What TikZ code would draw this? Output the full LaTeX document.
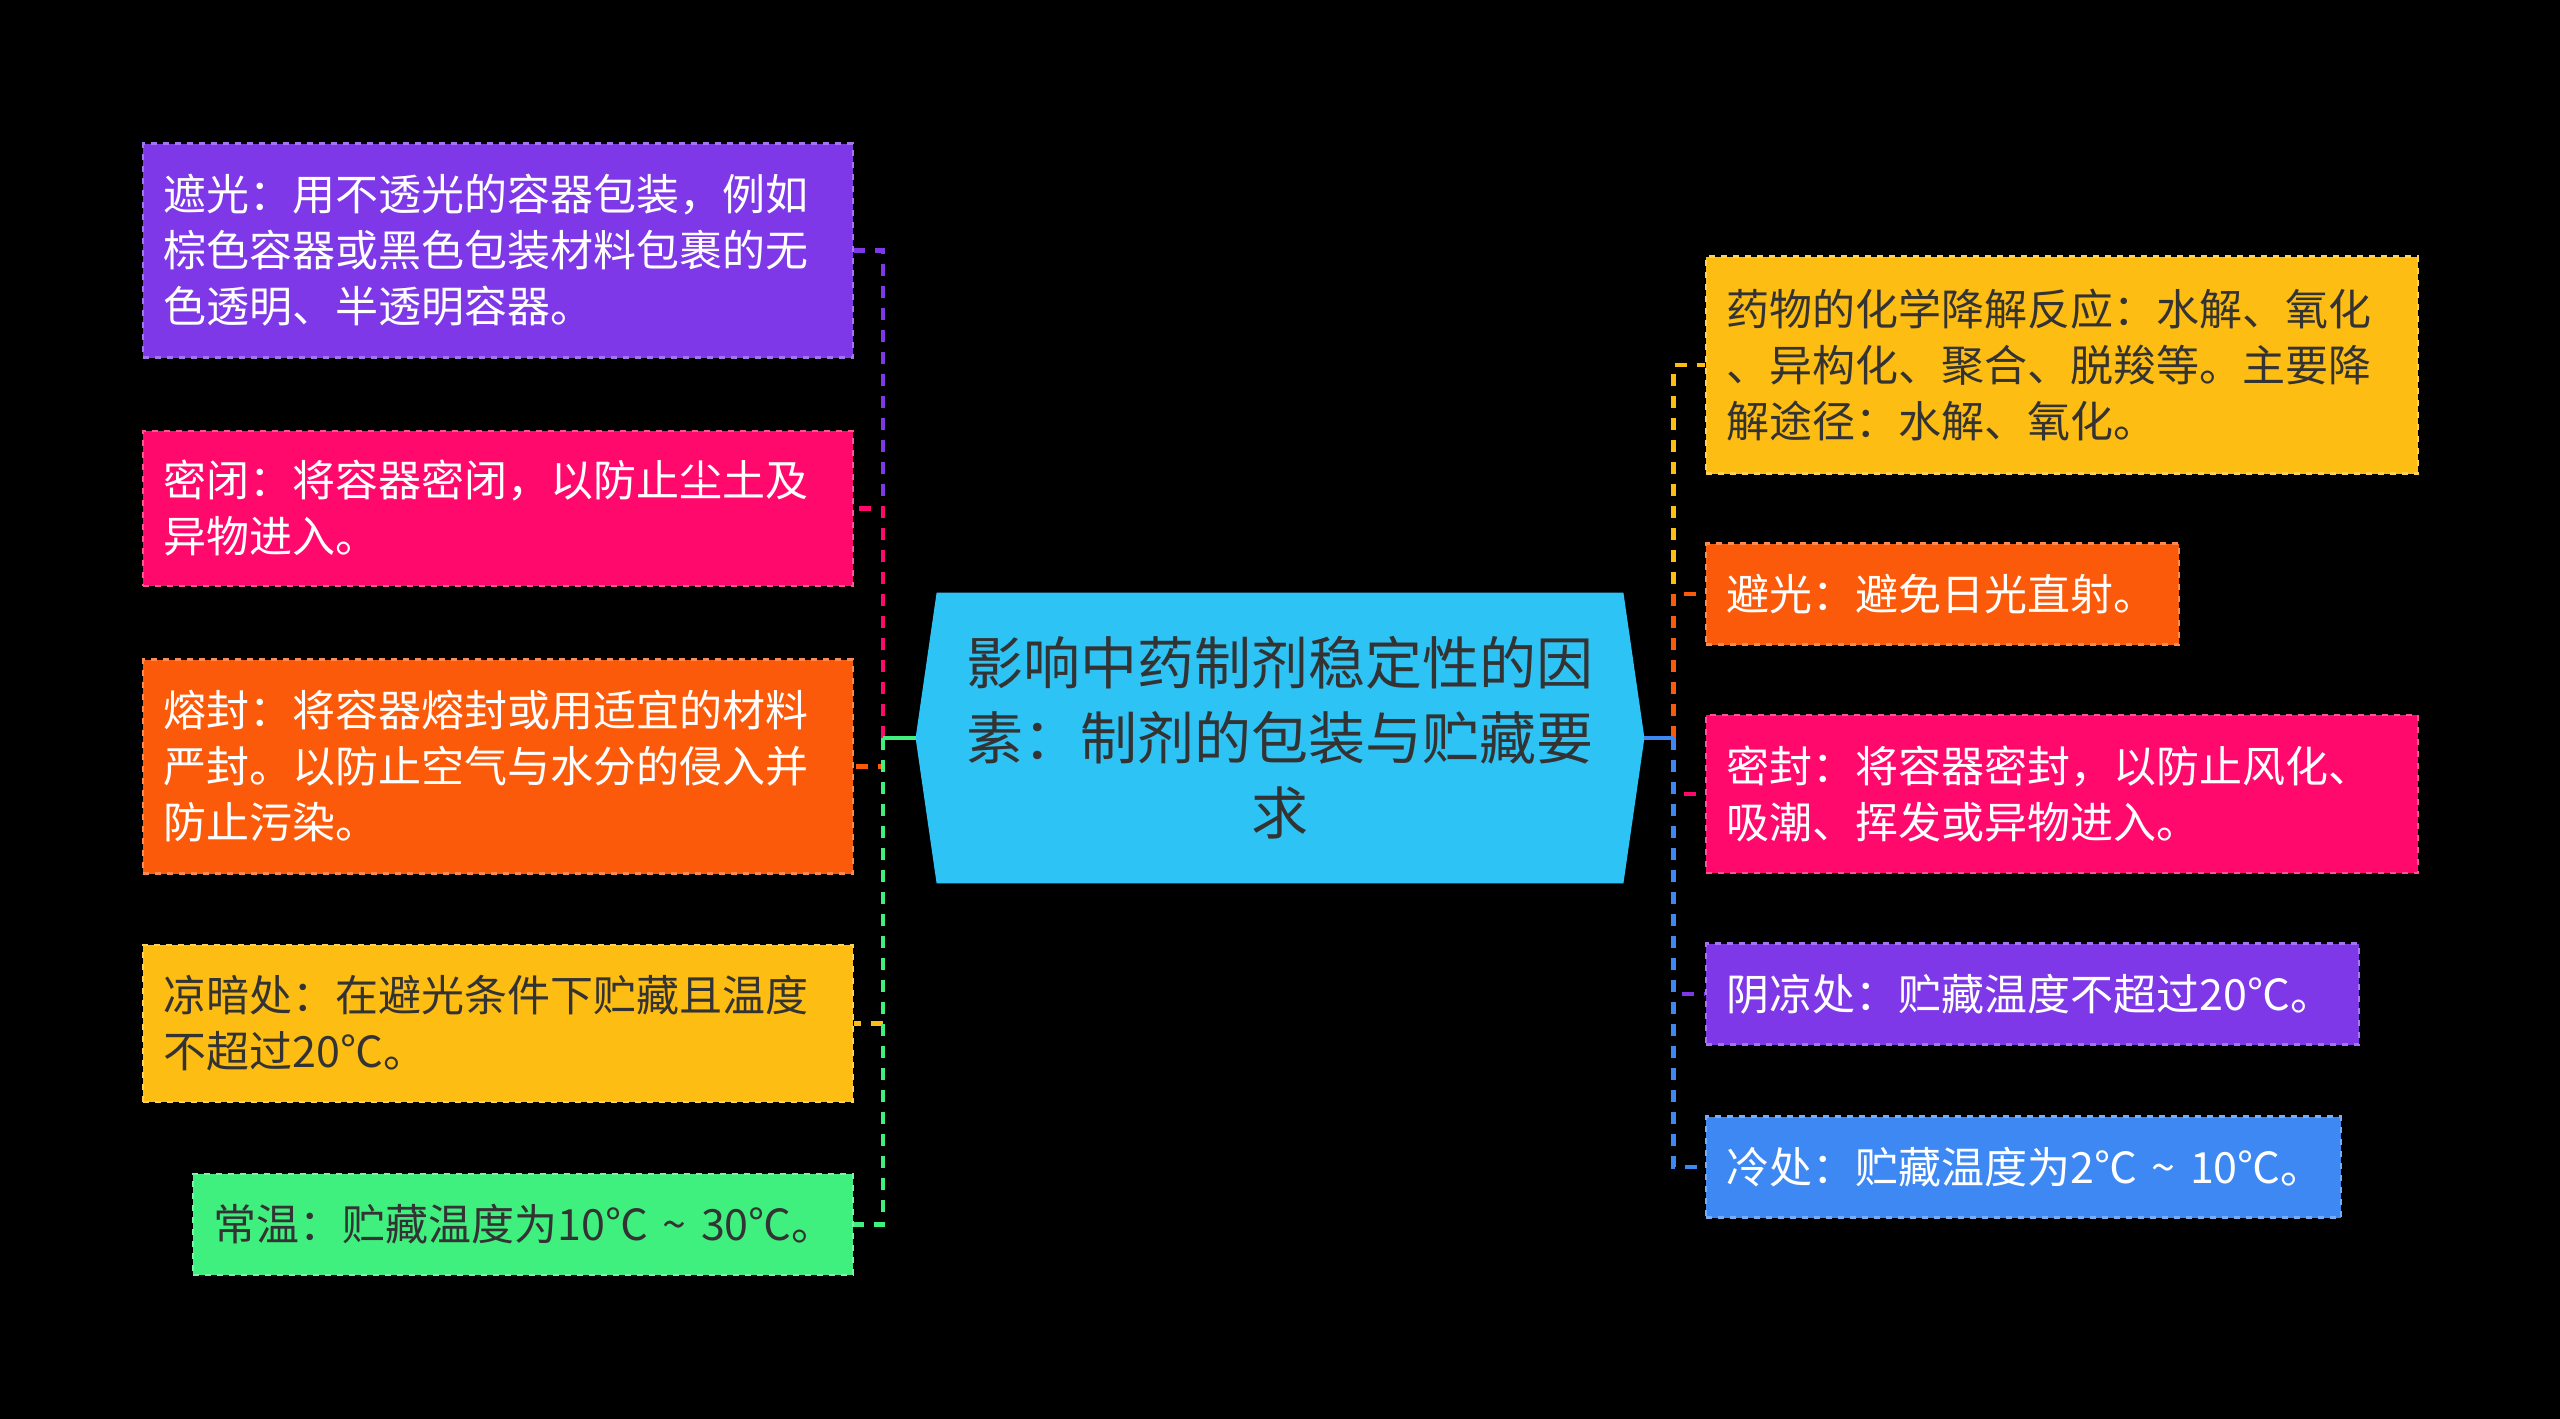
\documentclass[tikz,border=0pt]{standalone}
\usepackage{fontspec}
\setmainfont{Noto Sans CJK SC}
\usetikzlibrary{backgrounds}
\definecolor{cPurple}{HTML}{7E38E8}
\definecolor{cPink}{HTML}{FF0A6C}
\definecolor{cOrange}{HTML}{FB5A0A}
\definecolor{cYellow}{HTML}{FEBD12}
\definecolor{cGreen}{HTML}{40F07F}
\definecolor{cSky}{HTML}{2EC3F5}
\definecolor{cBlue}{HTML}{3E88F4}
\definecolor{cText}{HTML}{333333}
\begin{document}
\begin{tikzpicture}[x=0.5pt, y=-0.5pt,
        leaf/.style={draw=#1!70!white, fill=#1, dashed, line width=1.2pt, inner xsep=10.5pt, inner ysep=0pt,
            align=left, font=\fontsize{21.5pt}{28pt}\selectfont},
        link/.style={draw=#1, line width=2.4pt, dash pattern=on 6pt off 5pt},
        stub/.style={draw=#1, line width=2.4pt}]
                \useasboundingbox (0,0) rectangle (2560,1419);
                \node[inner sep=0pt, minimum width=343pt, minimum height=145pt, align=center, text=cText,
                    font=\fontsize{28.5pt}{37.5pt}\selectfont] (root) at (1280,738)
                    {影响中药制剂稳定性的因\\素：制剂的包装与贮藏要\\求};
                \begin{scope}[on background layer]
                    \fill[black] (0,0) rectangle (2560,1419);
                    \fill[cSky] (root.north west) -- (root.north east) -- ([xshift=10.5pt]root.east)
                        -- (root.south east) -- (root.south west) -- ([xshift=-10.5pt]root.west) -- cycle;
                \end{scope}
                \node[leaf=cPurple, text=white, text width=334pt, minimum height=107pt, anchor=east] (l1) at (854,250.5)
                    {遮光：用不透光的容器包装，例如\\棕色容器或黑色包装材料包裹的无\\色透明、半透明容器。};
                \node[leaf=cPink, text=white, text width=334pt, minimum height=77.5pt, anchor=east] (l2) at (854,508.5)
                    {密闭：将容器密闭，以防止尘土及\\异物进入。};
                \node[leaf=cOrange, text=white, text width=334pt, minimum height=107pt, anchor=east] (l3) at (854,766.5)
                    {熔封：将容器熔封或用适宜的材料\\严封。以防止空气与水分的侵入并\\防止污染。};
                \node[leaf=cYellow, text=cText, text width=334pt, minimum height=78.5pt, anchor=east] (l4) at (854,1023.5)
                    {凉暗处：在避光条件下贮藏且温度\\不超过20℃。};
                \node[leaf=cGreen, text=cText, text width=309pt, minimum height=50.5pt, anchor=east] (l5) at (854,1224.5)
                    {常温：贮藏温度为10℃~\textasciitilde~30℃。};
                \node[leaf=cYellow, text=cText, text width=335pt, minimum height=108.5pt, anchor=west] (r1) at (1704.5,365)
                    {药物的化学降解反应：水解、氧化\\、异构化、聚合、脱羧等。主要降\\解途径：水解、氧化。};
                \node[leaf=cOrange, text=white, text width=215.75pt, minimum height=50.5pt, anchor=west] (r2) at (1704.5,594)
                    {避光：避免日光直射。};
                \node[leaf=cPink, text=white, text width=335pt, minimum height=79pt, anchor=west] (r3) at (1704.5,794)
                    {密封：将容器密封，以防止风化、\\吸潮、挥发或异物进入。};
                \node[leaf=cPurple, text=white, text width=305.5pt, minimum height=50.5pt, anchor=west] (r4) at (1704.5,994)
                    {阴凉处：贮藏温度不超过20℃。};
                \node[leaf=cBlue, text=white, text width=296.5pt, minimum height=50.5pt, anchor=west] (r5) at (1704.5,1167)
                    {冷处：贮藏温度为2℃~\textasciitilde~10℃。};
                \coordinate (rl) at ([xshift=-10.5pt]root.west);
                \coordinate (rr) at ([xshift=10.5pt]root.east);
                \coordinate (tl) at (883,738);
                \coordinate (tr) at (1673.5,738);
                \draw[link=cPurple] (tl) |- (l1.east);
                \draw[link=cPink] (tl) |- (l2.east);
                \draw[link=cOrange] (tl) |- (l3.east);
                \draw[link=cYellow] (tl) |- (l4.east);
                \draw[link=cGreen] (tl) |- (l5.east);
                \draw[link=cYellow] (tr) |- (r1.west);
                \draw[link=cOrange] (tr) |- (r2.west);
                \draw[link=cPink] (tr) |- (r3.west);
                \draw[link=cPurple] (tr) |- (r4.west);
                \draw[link=cBlue] (tr) |- (r5.west);
                \draw[stub=cGreen] (rl) -- (tl);
                \draw[stub=cBlue] (rr) -- (tr);
            \end{tikzpicture}
\end{document}
